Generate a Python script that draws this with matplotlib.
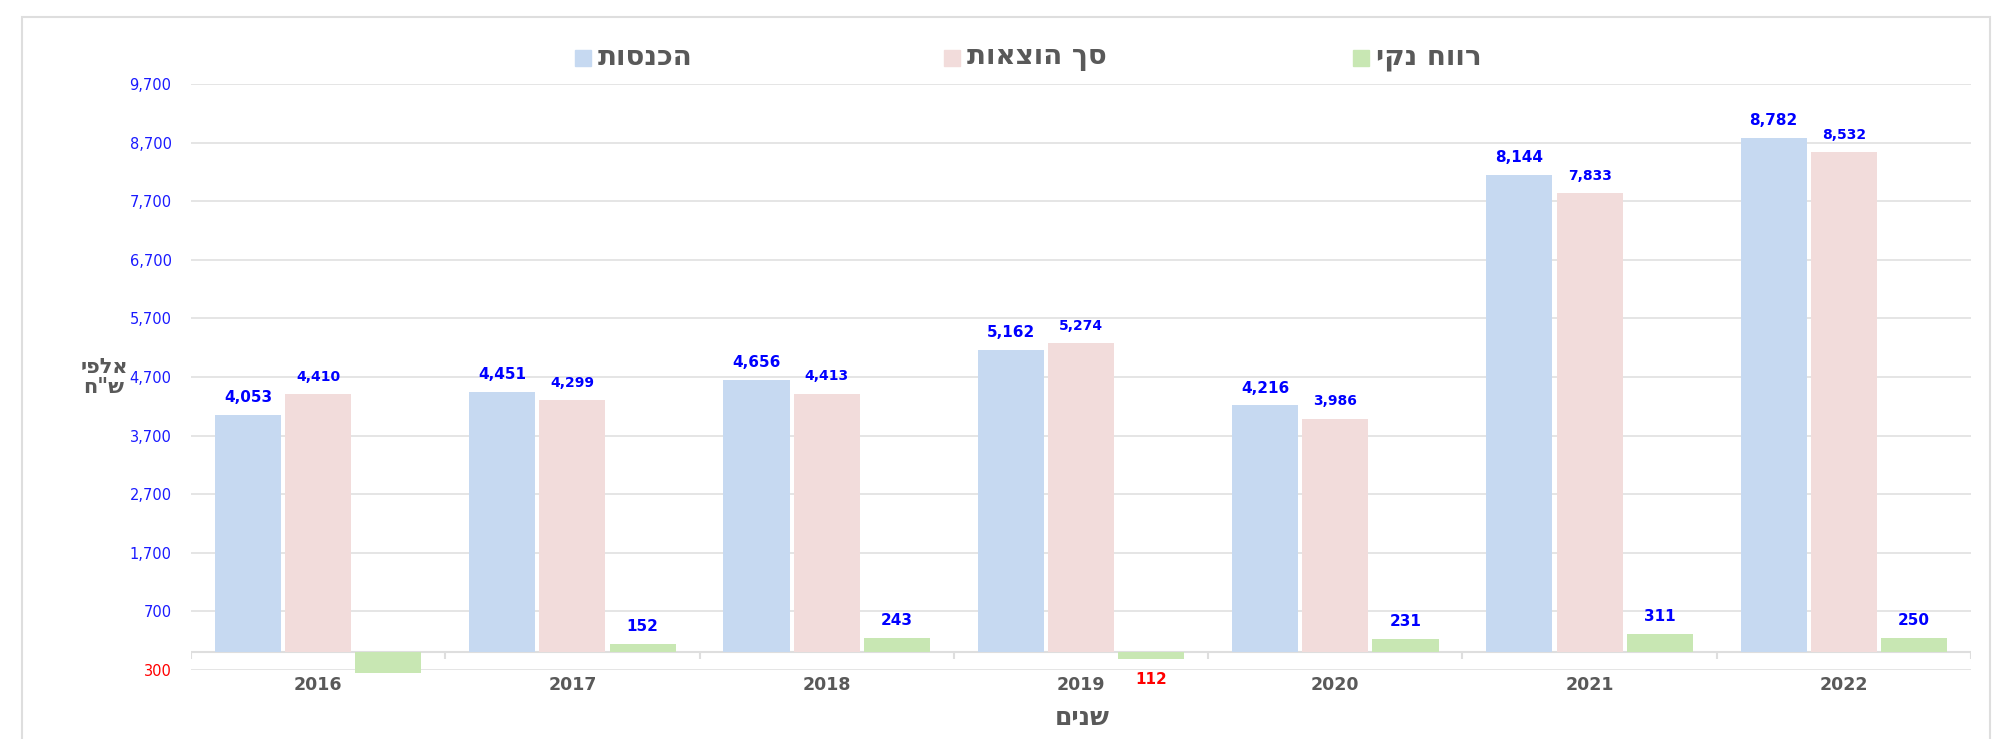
import matplotlib
matplotlib.use("Agg")
import matplotlib.pyplot as plt
from matplotlib.patches import Rectangle
import numpy as np

# ---------------------------------------------------------------- data
YEARS = ["2016", "2017", "2018", "2019", "2020", "2021", "2022"]
INCOME = [4053, 4451, 4656, 5162, 4216, 8144, 8782]        # הכנסות
EXPENSES = [4410, 4299, 4413, 5274, 3986, 7833, 8532]      # סך הוצאות
NET = [-357, 152, 243, -112, 231, 311, 250]                # רווח נקי
SERIES_NAMES = ["הכנסות", "סך הוצאות", "רווח נקי"]
Y_TICKS = [-300, 700, 1700, 2700, 3700, 4700, 5700, 6700, 7700, 8700, 9700]
Y_LABEL = ["אלפי", 'ש"ח']
X_LABEL = "שנים"

COLORS = ["#c6d9f1", "#f2dcdb", "#c8e7b3"]
LABEL_BLUE = "#0000ff"
TICK_BLUE = "#1a1aff"
RED = "#ff0000"
GRAY_TXT = "#595959"
GRID = "#dedede"

plt.rcParams["font.family"] = ["DejaVu Sans"]


def rtl(s):
    # matplotlib has no bidi support, so flip Hebrew for display
    return s[::-1]


def fmt(v):
    return f"{abs(v):,.0f}"


W, H, DPI = 1994, 739, 100
fig = plt.figure(figsize=(W / DPI, H / DPI), dpi=DPI)

# chart border
fig.patches.append(Rectangle((22 / W, -0.05), (1990 - 22) / W, 1.05 - 17 / H,
                             transform=fig.transFigure, fill=False,
                             edgecolor=GRID, lw=1.5))

ax = fig.add_axes([191 / W, (H - 670) / H, (1971 - 191) / W, 586 / H])
ax.set_xlim(-0.5, len(YEARS) - 0.5)
ax.set_ylim(Y_TICKS[0], Y_TICKS[-1])

x = np.arange(len(YEARS))
step = 0.276
width = 0.26
for i, (vals, col) in enumerate(zip([INCOME, EXPENSES, NET], COLORS)):
    xs = x + (i - 1) * step
    ax.bar(xs, vals, width, color=col, zorder=3, clip_on=False)
    size = [11, 10, 11][i]
    for xi, v in zip(xs, vals):
        if v >= 0:
            ax.annotate(fmt(v), (xi, v), textcoords="offset points",
                        xytext=(0, 12.5), ha="center", va="center",
                        color=LABEL_BLUE, fontsize=size, fontweight="bold")
        elif v > Y_TICKS[0]:
            ax.annotate(fmt(v), (xi, v), textcoords="offset points",
                        xytext=(0, -15), ha="center", va="center",
                        color=RED, fontsize=size, fontweight="bold")

# grid, zero line and category separators
ax.set_yticks(Y_TICKS)
ax.yaxis.grid(True, color=GRID, lw=1.1, zorder=0)
ax.axhline(0, color=GRID, lw=1.5, zorder=2)
ax.vlines(np.arange(len(YEARS) + 1) - 0.5, -120, 0, color=GRID, lw=1.5,
          zorder=2)
for s in ax.spines.values():
    s.set_visible(False)

ax.set_yticklabels([fmt(t) for t in Y_TICKS])
for lbl, t in zip(ax.get_yticklabels(), Y_TICKS):
    lbl.set_color(RED if t < 0 else TICK_BLUE)
ax.tick_params(axis="y", length=0, pad=14, labelsize=10.5)

ax.set_xticks(x)
ax.set_xticklabels(YEARS, fontsize=12.5, fontweight="bold", color=GRAY_TXT)
ax.tick_params(axis="x", length=0, pad=4)

# axis titles
fig.text(104 / W, 1 - 377 / H, "\n".join(rtl(s) for s in Y_LABEL),
         ha="center", va="center", fontsize=15, fontweight="bold",
         color=GRAY_TXT, linespacing=1.05)
fig.text(1082 / W, 1 - 718 / H, rtl(X_LABEL), ha="center", va="center",
         fontsize=18, fontweight="bold", color=GRAY_TXT)

# legend (square then name), laid out by hand across the top
legend_x = [575, 944, 1353]
for lx, name, col in zip(legend_x, SERIES_NAMES, COLORS):
    fig.patches.append(Rectangle((lx / W, 1 - 66 / H), 16 / W, 16 / H,
                                 transform=fig.transFigure, color=col))
    fig.text((lx + 23) / W, 1 - 57 / H, rtl(name), ha="left", va="center",
             fontsize=20, fontweight="bold", color=GRAY_TXT)

fig.savefig("out.png", dpi=DPI)
